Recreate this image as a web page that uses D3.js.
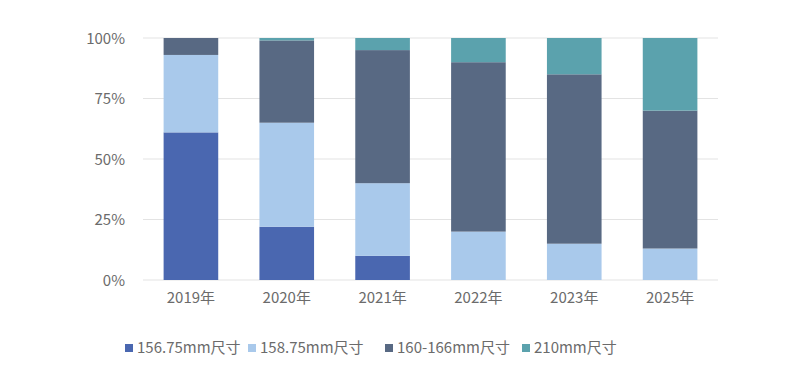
<!DOCTYPE html>
<html>
<head>
<meta charset="utf-8">
<script src="https://cdn.jsdelivr.net/npm/d3@7"></script>
<style>
  body { margin: 0; background: #fff; }
  svg text { font-family: "Noto Sans CJK SC", "Noto Sans", sans-serif; fill: #6b6b6b; }
</style>
</head>
<body>
<div id="chart"></div>
<script>
const years = ["2019年", "2020年", "2021年", "2022年", "2023年", "2025年"];
const seriesNames = ["156.75mm尺寸", "158.75mm尺寸", "160-166mm尺寸", "210mm尺寸"];
const s15675 = [61, 22, 10, 0, 0, 0];
const s15875 = [32, 43, 30, 20, 15, 13];
const s160166 = [7, 34, 55, 70, 70, 57];
const s210 = [0, 1, 5, 10, 15, 30];
const yTicks = [0, 25, 50, 75, 100];
const colors = ["#4a67b0", "#a9c9eb", "#586983", "#5ba2ad"];

let rows = years.map((y, i) => ({
    year: y,
    [seriesNames[0]]: s15675[i],
    [seriesNames[1]]: s15875[i],
    [seriesNames[2]]: s160166[i],
    [seriesNames[3]]: s210[i]
}));

let width = 800, height = 384;
let margin = {top: 38, right: 82, bottom: 104, left: 143};

let svg = d3.select("#chart").append("svg")
    .attr("width", width)
    .attr("height", height);

let xScale = d3.scaleBand()
    .domain(years)
    .range([margin.left, width - margin.right])
    .paddingInner(0.43)
    .paddingOuter(0.215);

let yScale = d3.scaleLinear()
    .domain([0, 100])
    .range([height - margin.bottom, margin.top]);

// gridlines
svg.append("g")
    .attr("class", "grid")
    .selectAll("line")
    .data(yTicks)
    .enter().append("line")
    .attr("x1", margin.left)
    .attr("x2", width - margin.right)
    .attr("y1", d => yScale(d))
    .attr("y2", d => yScale(d))
    .attr("stroke", "#e3e3e3")
    .attr("stroke-width", 1.2);

let stacked = d3.stack().keys(seriesNames)(rows);

svg.append("g")
    .selectAll("g")
    .data(stacked)
    .enter().append("g")
    .attr("fill", (d, i) => colors[i])
    .selectAll("rect")
    .data(d => d)
    .enter().append("rect")
    .attr("x", d => xScale(d.data.year))
    .attr("width", xScale.bandwidth())
    .attr("y", d => yScale(d[1]))
    .attr("height", d => yScale(d[0]) - yScale(d[1]));

// y axis
let yAxis = svg.append("g")
    .attr("transform", `translate(${margin.left - 15}, 0)`)
    .call(d3.axisLeft(yScale).tickValues(yTicks).tickFormat(d => d + "%").tickSize(0));
yAxis.select(".domain").remove();
yAxis.selectAll("text")
    .style("font-size", "15px")
    .attr("dy", "0.35em");

// x axis
let xAxis = svg.append("g")
    .attr("transform", `translate(0, ${height - margin.bottom})`)
    .call(d3.axisBottom(xScale).tickSize(0));
xAxis.select(".domain").remove();
xAxis.selectAll("text")
    .style("font-size", "15px")
    .attr("dy", "1.35em");

// legend
let legendX = [125, 248, 385, 522];
let legend = svg.append("g")
    .selectAll("g")
    .data(seriesNames)
    .enter().append("g")
    .attr("transform", (d, i) => `translate(${legendX[i]}, 348)`);

legend.append("rect")
    .attr("x", 0)
    .attr("y", -4)
    .attr("width", 8)
    .attr("height", 8)
    .attr("fill", (d, i) => colors[i]);

legend.append("text")
    .attr("x", 12)
    .attr("dy", "0.35em")
    .style("font-size", "15px")
    .text(d => d);
</script>
</body>
</html>
